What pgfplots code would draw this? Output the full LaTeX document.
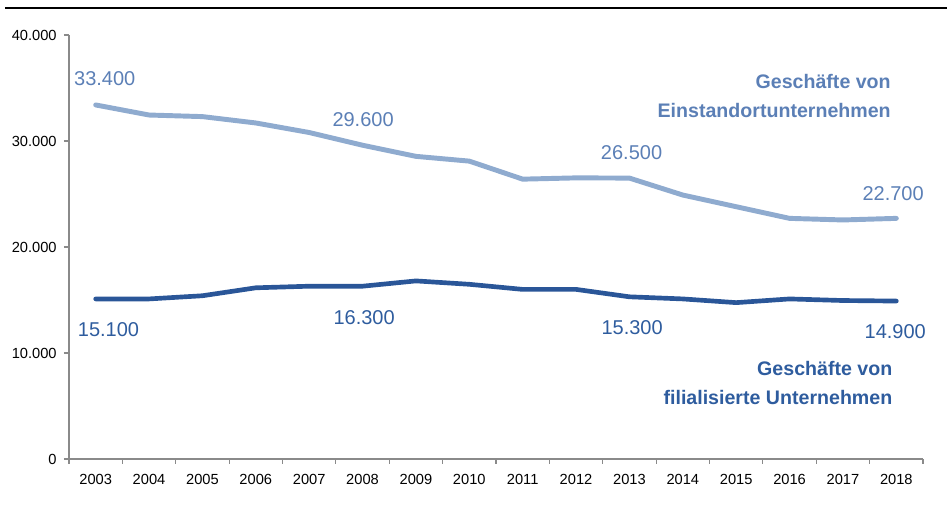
\documentclass[border=0pt]{standalone}
\usepackage{pgfplots}
\pgfplotsset{compat=1.18}
\usepackage{fontspec}
\setmainfont{Liberation Sans}

\definecolor{lightline}{HTML}{8FABCF}
\definecolor{lighttext}{HTML}{5B7FB6}
\definecolor{darkline}{HTML}{2A5698}
\definecolor{darktext}{HTML}{2E5C9E}
\definecolor{axisgray}{HTML}{8A8A8A}

\begin{document}
\begin{tikzpicture}
\path[use as bounding box] (0,0) rectangle (710.25pt,378.75pt);
\draw[black, line width=0.9pt] (3.75pt,372.75pt) -- (710.25pt,372.75pt);
\begin{axis}[
    scale only axis,
    width=640.5pt, height=318pt,
    at={(51.75pt,34.5pt)}, anchor=south west,
    xmin=0, xmax=16, ymin=0, ymax=40000,
    axis x line*=bottom, axis y line*=left,
    axis line style={axisgray, line width=0.8pt, -},
    tick style={axisgray, line width=0.8pt},
    tick align=outside, major tick length=3.75pt,
    xtick={0,...,16},
    x tick label as interval,
    xticklabels={2003,2004,2005,2006,2007,2008,2009,2010,2011,2012,2013,2014,2015,2016,2017,2018},
    ytick={0,10000,20000,30000,40000},
    yticklabels={0,10.000,20.000,30.000,40.000},
    scaled y ticks=false,
    ticklabel style={font=\fontsize{11}{12.5}\selectfont, text=black},
    xticklabel style={yshift=-4pt},
    yticklabel style={xshift=-2pt},
    clip=false,
]
\addplot[lightline, line width=3.7pt, line join=round, line cap=round] coordinates {
(0.5,33400)(1.5,32450)(2.5,32300)(3.5,31700)(4.5,30800)(5.5,29600)(6.5,28550)(7.5,28100)
(8.5,26400)(9.5,26520)(10.5,26500)(11.5,24900)(12.5,23800)(13.5,22700)(14.5,22550)(15.5,22700)
};
\addplot[darkline, line width=3.5pt, line join=round, line cap=round] coordinates {
(0.5,15100)(1.5,15100)(2.5,15400)(3.5,16150)(4.5,16300)(5.5,16300)(6.5,16800)(7.5,16480)
(8.5,16000)(9.5,16000)(10.5,15300)(11.5,15100)(12.5,14750)(13.5,15100)(14.5,14950)(15.5,14900)
};
\begin{scope}[every node/.style={font=\fontsize{15}{17}\selectfont}]
\node[text=lighttext] at (axis cs:0.67,35850) {33.400};
\node[text=lighttext] at (axis cs:5.51,31980) {29.600};
\node[text=lighttext] at (axis cs:10.54,28930) {26.500};
\node[text=lighttext] at (axis cs:15.44,25070) {22.700};
\node[text=darktext] at (axis cs:0.74,12170) {15.100};
\node[text=darktext] at (axis cs:5.53,13300) {16.300};
\node[text=darktext] at (axis cs:10.55,12360) {15.300};
\node[text=darktext] at (axis cs:15.48,12010) {14.900};
\end{scope}
\node[anchor=east, align=right, text=lighttext, font=\bfseries\fontsize{14.7}{22}\selectfont, inner sep=0pt]
  at (axis cs:15.4,34250) {Geschäfte von\\Einstandortunternehmen};
\node[anchor=east, align=right, text=darktext, font=\bfseries\fontsize{14.7}{22}\selectfont, inner sep=0pt]
  at (axis cs:15.43,7150) {Geschäfte von\\filialisierte Unternehmen};
\end{axis}
\end{tikzpicture}
\end{document}
